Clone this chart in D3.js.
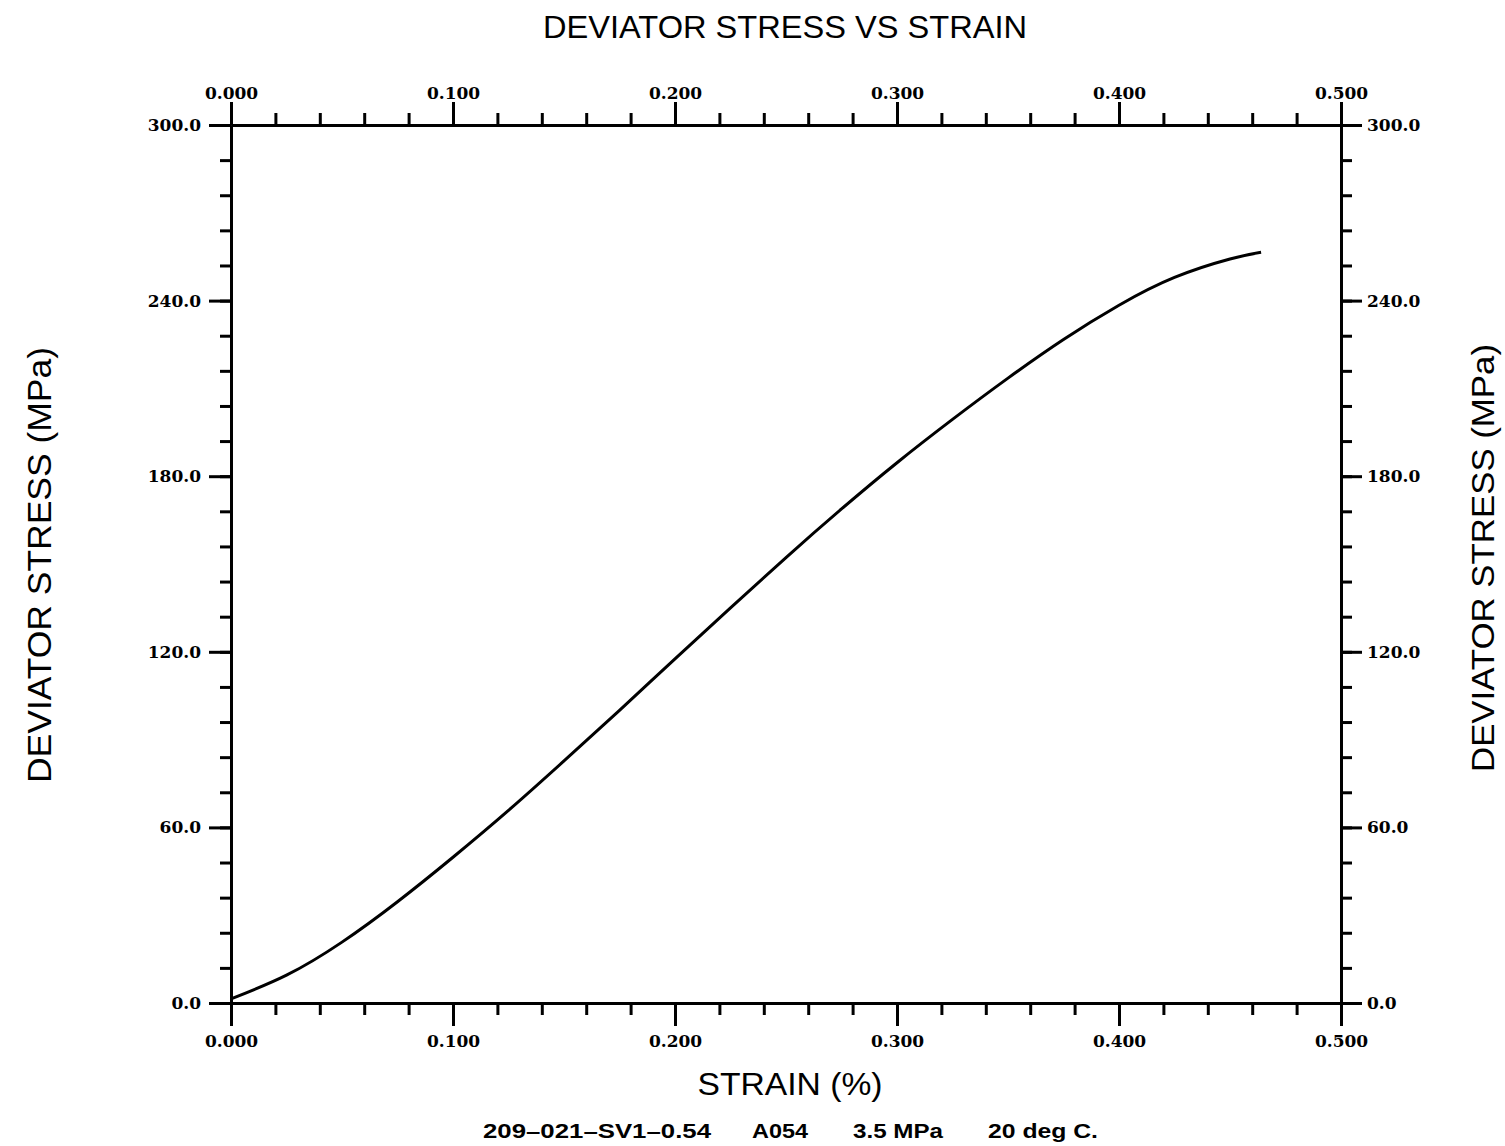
<!DOCTYPE html>
<html>
<head>
<meta charset="utf-8">
<script src="https://cdn.jsdelivr.net/npm/d3@7"></script>
<style>
  body { margin: 0; background: #fff; }
  .tick text { font-family: "DejaVu Serif", serif; font-weight: bold; font-size: 17px; fill: #000; }
  .domain, .tick line { stroke: #000; stroke-width: 3px; }
</style>
</head>
<body>
<script>
// curve: strain (%) vs deviator stress (MPa)
const strain = [0.000, 0.025, 0.050, 0.075, 0.100, 0.125, 0.150, 0.175, 0.200,
                0.225, 0.250, 0.275, 0.300, 0.325, 0.350, 0.375, 0.400, 0.425,
                0.450, 0.464];
const stress = [1.4, 9.5, 20.8, 34.6, 49.8, 65.8, 82.7, 100.0, 117.6,
                135.0, 152.2, 168.8, 184.6, 199.4, 213.5, 226.7, 238.4, 247.9,
                254.2, 256.5];

const xMajor = [0, 0.1, 0.2, 0.3, 0.4, 0.5];
const yMajor = [0, 60, 120, 180, 240, 300];

const title = 'DEVIATOR STRESS VS STRAIN';
const xTitle = 'STRAIN (%)';
const yTitle = 'DEVIATOR STRESS (MPa)';
const footer = ['209\u2013021\u2013SV1\u20130.54', 'A054', '3.5 MPa', '20 deg C.'];

const width = 1505, height = 1146;
const margin = { top: 125, right: 164, bottom: 143, left: 231 };
const innerW = width - margin.left - margin.right;
const innerH = height - margin.top - margin.bottom;

const svg = d3.select('body').append('svg')
    .attr('width', width)
    .attr('height', height);

const g = svg.append('g')
    .attr('transform', `translate(${margin.left},${margin.top})`);

const x = d3.scaleLinear().domain([0, 0.5]).range([0, innerW]);
const y = d3.scaleLinear().domain([0, 300]).range([innerH, 0]);

const xMinor = d3.range(0, 0.5001, 0.02);
const yMinor = d3.range(0, 300.01, 12);

// minor ticks first, then majors with labels
g.append('g').attr('transform', `translate(0,${innerH})`)
    .call(d3.axisBottom(x).tickValues(xMinor).tickFormat('').tickSize(12).tickSizeOuter(0));
g.append('g')
    .call(d3.axisTop(x).tickValues(xMinor).tickFormat('').tickSize(12).tickSizeOuter(0));
g.append('g')
    .call(d3.axisLeft(y).tickValues(yMinor).tickFormat('').tickSize(11).tickSizeOuter(0));
g.append('g').attr('transform', `translate(${innerW},0)`)
    .call(d3.axisRight(y).tickValues(yMinor).tickFormat('').tickSize(11).tickSizeOuter(0));

g.append('g').attr('transform', `translate(0,${innerH})`)
    .call(d3.axisBottom(x).tickValues(xMajor).tickFormat(d3.format('.3f')).tickSize(23).tickPadding(9).tickSizeOuter(0));
g.append('g')
    .call(d3.axisTop(x).tickValues(xMajor).tickFormat(d3.format('.3f')).tickSize(23).tickPadding(3).tickSizeOuter(0));
g.append('g')
    .call(d3.axisLeft(y).tickValues(yMajor).tickFormat(d3.format('.1f')).tickSize(22).tickPadding(8).tickSizeOuter(0));
g.append('g').attr('transform', `translate(${innerW},0)`)
    .call(d3.axisRight(y).tickValues(yMajor).tickFormat(d3.format('.1f')).tickSize(21).tickPadding(5).tickSizeOuter(0));

// curve
const line = d3.line()
    .x((d, i) => x(strain[i]))
    .y(d => y(d))
    .curve(d3.curveNatural);

g.append('path')
    .datum(stress)
    .attr('fill', 'none')
    .attr('stroke', '#000')
    .attr('stroke-width', 3)
    .attr('stroke-linejoin', 'round')
    .attr('d', line);

// titles
const sans = '"Liberation Sans", Arial, sans-serif';

svg.append('text')
    .attr('x', 785).attr('y', 38)
    .attr('text-anchor', 'middle')
    .attr('font-family', sans).attr('font-size', 32)
    .attr('textLength', 484).attr('lengthAdjust', 'spacingAndGlyphs')
    .text(title);

svg.append('text')
    .attr('x', 790).attr('y', 1095)
    .attr('text-anchor', 'middle')
    .attr('font-family', sans).attr('font-size', 31)
    .attr('textLength', 185).attr('lengthAdjust', 'spacingAndGlyphs')
    .text(xTitle);

svg.append('text')
    .attr('transform', `translate(51,565) rotate(-90)`)
    .attr('text-anchor', 'middle')
    .attr('font-family', sans).attr('font-size', 34)
    .attr('textLength', 436).attr('lengthAdjust', 'spacingAndGlyphs')
    .text(yTitle);

svg.append('text')
    .attr('transform', `translate(1494,558) rotate(-90)`)
    .attr('text-anchor', 'middle')
    .attr('font-family', sans).attr('font-size', 32)
    .attr('textLength', 428).attr('lengthAdjust', 'spacingAndGlyphs')
    .text(yTitle);

const footX = [483, 752, 853, 988];
const footW = [228, 56, 90, 110];
svg.append('g').selectAll('text')
    .data(footer)
    .enter()
    .append('text')
    .attr('x', (d, i) => footX[i])
    .attr('y', 1138)
    .attr('font-family', sans).attr('font-size', 20).attr('font-weight', 'bold')
    .attr('textLength', (d, i) => footW[i]).attr('lengthAdjust', 'spacingAndGlyphs')
    .text(d => d);
</script>
</body>
</html>
